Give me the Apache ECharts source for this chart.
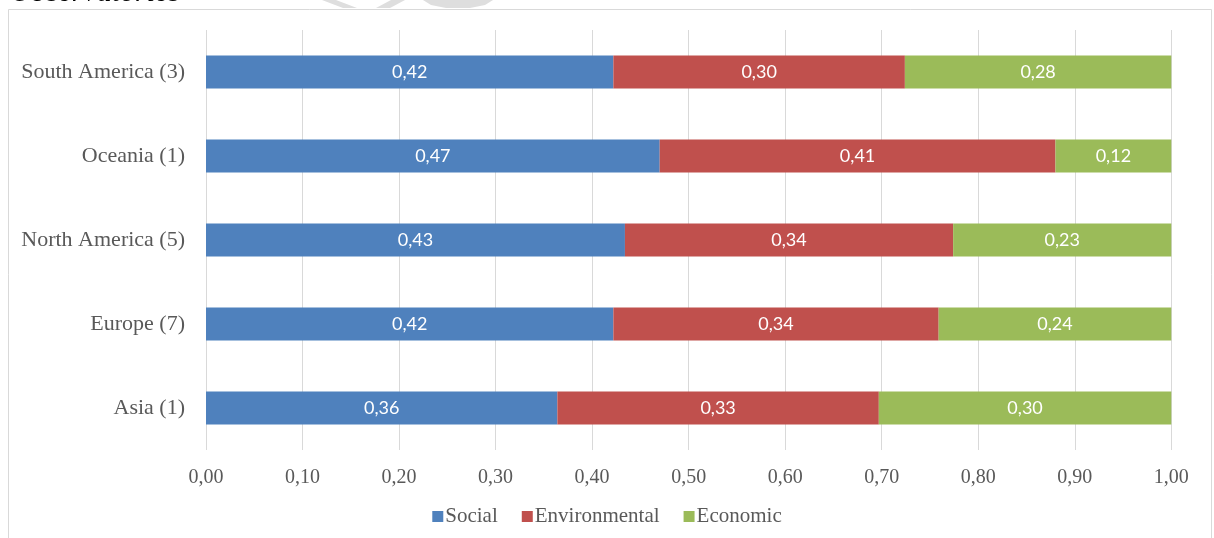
<!DOCTYPE html>
<html>
<head>
<meta charset="utf-8">
<script src="https://cdn.jsdelivr.net/npm/echarts@6/dist/echarts.min.js"></script>
<style>
html,body{margin:0;padding:0;background:#fff;}
#c{width:1214px;height:538px;}
</style>
</head>
<body>
<div id="c"></div>
<script>
const categories = ['Asia (1)', 'Europe (7)', 'North America (5)', 'Oceania (1)', 'South America (3)'];
const social = [0.364, 0.422, 0.434, 0.470, 0.422];
const environmental = [0.333, 0.337, 0.340, 0.410, 0.302];
const economic = [0.303, 0.241, 0.226, 0.120, 0.276];
const xTicks = ['0,00','0,10','0,20','0,30','0,40','0,50','0,60','0,70','0,80','0,90','1,00'];
const seriesNames = ['Social', 'Environmental', 'Economic'];
const colors = ['#4F81BD', '#C0504D', '#9BBB59'];

const chart = echarts.init(document.getElementById('c'), null, {renderer: 'canvas'});
const fmt = v => v.toFixed(2).replace('.', ',');
const labelStyle = {
  show: true, position: 'inside', color: '#ffffff',
  fontFamily: 'Lato', fontSize: 18,
  formatter: p => fmt(p.value)
};
const data = [social, environmental, economic];

chart.setOption({
  animation: false,
  backgroundColor: '#ffffff',
  graphic: [
    {type: 'rect', shape: {x: 8.5, y: 9.5, width: 1203, height: 560}, style: {fill: 'none', stroke: '#d9d9d9', lineWidth: 1}, z: -10},
    {type: 'text', left: 10, top: -22, style: {text: 'Observatories', fontFamily: 'Liberation Serif', fontStyle: 'italic', fontSize: 30, fill: '#000000'}},
    {type: 'polygon', shape: {points: [[322,0],[336,0],[357,8],[343,8]]}, style: {fill: '#dedede'}, z: -5},
    {type: 'polygon', shape: {points: [[391,0],[405,0],[390,8],[376,8]]}, style: {fill: '#dedede'}, z: -5},
    {type: 'polygon', shape: {points: [[423,0],[493,0],[485,5],[470,8],[446,8],[431,5]]}, style: {fill: '#dedede'}, z: -5}
  ],
  grid: {left: 206, right: 42.7, top: 30, bottom: 88, containLabel: false},
  legend: {
    data: seriesNames,
    bottom: 6, left: 'center',
    itemWidth: 11, itemHeight: 11, itemGap: 24,
    icon: 'rect',
    textStyle: {fontFamily: 'Liberation Serif', fontSize: 21, color: '#595959', padding: [0,0,0,-3]}
  },
  xAxis: {
    type: 'value', min: 0, max: 1, interval: 0.1,
    axisLine: {show: false}, axisTick: {show: false},
    splitLine: {show: true, lineStyle: {color: '#d9d9d9', width: 1}},
    axisLabel: {
      margin: 18, color: '#595959', fontFamily: 'Liberation Serif', fontSize: 20,
      formatter: v => xTicks[Math.round(v * 10)]
    }
  },
  yAxis: {
    type: 'category', data: categories,
    axisLine: {show: false}, axisTick: {show: false},
    axisLabel: {margin: 21, color: '#595959', fontFamily: 'Liberation Serif', fontSize: 22}
  },
  series: seriesNames.map((n, i) => ({
    name: n, type: 'bar', stack: 'total', data: data[i],
    barWidth: 33,
    itemStyle: {color: colors[i]},
    label: labelStyle
  }))
});
</script>
</body>
</html>
